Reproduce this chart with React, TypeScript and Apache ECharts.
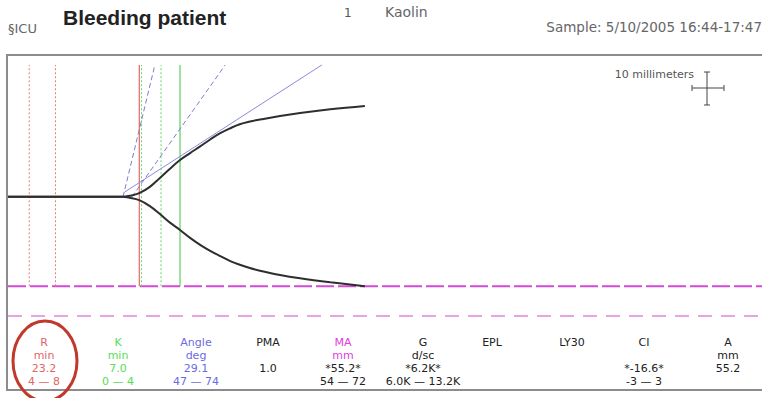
import React, { useEffect, useRef } from "react";
import * as echarts from "echarts";

// ---- data (minutes / millimetres) ----
const timeMin = [0, 20.4, 21.8, 23.5, 25.4, 27.2, 29.0, 30.8, 32.6, 34.4, 36.2, 38.0, 39.8, 41.5, 43.3, 45.1, 48.7, 52.3, 57.7, 63.9];
const upperMM = [0, 0, 0.3, 1.1, 3.0, 5.7, 8.5, 11.1, 13.2, 15.2, 17.3, 19.2, 20.7, 21.9, 22.7, 23.3, 24.4, 25.3, 26.4, 27.4];
const lowerMM = [0, 0, -0.3, -1.0, -2.8, -5.2, -7.8, -10.0, -12.4, -14.5, -16.3, -17.9, -19.4, -20.5, -21.5, -22.3, -23.6, -24.6, -25.8, -27.0];

const angleLine = [[20.9, 1.45], [56.2, 39.8]];
const tangentDashA = [[20.6, 0], [26.3, 39.8]];
const tangentDashB = [[22.2, 0], [38.9, 39.8]];

const rRangeMin = [3.8, 8.5];
const rLineMin = 23.5;
const kRangeMin = [23.9, 27.4];
const kLineMin = 30.8;
const markerSpanMM = [-27, 39.8];

const maNormalHalfMM = [-27, -36];

const paramNames = ["R", "K", "Angle", "PMA", "MA", "G", "EPL", "LY30", "CI", "A"];
const paramUnits = ["min", "min", "deg", "", "mm", "d/sc", "", "", "", "mm"];
const paramValues = ["23.2", "7.0", "29.1", "1.0", "*55.2*", "*6.2K*", "", "", "*-16.6*", "55.2"];
const paramRanges = ["4 \u2014 8", "0 \u2014 4", "47 \u2014 74", "", "54 \u2014 72", "6.0K \u2014 13.2K", "", "", "-3 \u2014 3", ""];

// ---- style / layout ----
const colX = [44, 118, 196, 268, 343, 423, 492, 572, 644, 728];
const nameColor = ["#e06666", "#55dd55", "#6b6be0", "#222", "#e040e0", "#222", "#222", "#222", "#222", "#222"];
const valueColor = ["#e06666", "#55dd55", "#6b6be0", "#222", "#222", "#222", "#222", "#222", "#222", "#222"];
const FONT = "DejaVu Sans";

export default function App() {
  const ref = useRef<HTMLDivElement>(null);
  useEffect(() => {
    if (!ref.current) return;
    const chart = echarts.init(ref.current, null, { renderer: "svg" });

    const vline = (x: number, color: string, type: any, width = 1) => ({
      type: "line",
      data: [[x, markerSpanMM[0]], [x, markerSpanMM[1]]],
      showSymbol: false,
      silent: true,
      z: 3,
      lineStyle: { color, type, width },
    });

    const tableTexts: any[] = [];
    const rowsY = [342, 355, 368, 381];
    paramNames.forEach((n, i) => {
      const rows = [n, paramUnits[i], paramValues[i], paramRanges[i]];
      rows.forEach((t, r) => {
        if (!t) return;
        tableTexts.push({
          type: "text",
          x: colX[i],
          y: rowsY[r],
          style: {
            text: t,
            fill: r < 2 ? nameColor[i] : valueColor[i],
            font: `11px "${FONT}"`,
            align: "center",
            verticalAlign: "middle",
            lineHeight: 12,
          },
        });
      });
    });

    const option: any = {
      animation: false,
      grid: { left: 8, right: 0, top: 56, height: 270 },
      xAxis: { type: "value", min: 0, max: 135, show: false },
      yAxis: { type: "value", min: -39, max: 42.5, show: false },
      series: [
        ...maNormalHalfMM.map((y, i) => ({
          type: "line",
          data: [[0, y], [135, y]],
          showSymbol: false,
          silent: true,
          z: 2,
          lineStyle: i === 0
            ? { color: "#d44ad4", width: 2, type: [18, 4] }
            : { color: "#e6a3e6", width: 2, type: [14, 9] },
        })),
        ...rRangeMin.map((x) => vline(x, "#ec7a7a", [2, 2])),
        vline(rLineMin, "#e04848", "solid"),
        ...kRangeMin.map((x) => vline(x, "#66d866", [2, 2])),
        vline(kLineMin, "#44c044", "solid"),
        {
          type: "line", data: angleLine, showSymbol: false, silent: true, z: 4,
          lineStyle: { color: "#8a8ae0", width: 1 },
        },
        {
          type: "line", data: tangentDashA, showSymbol: false, silent: true, z: 4,
          lineStyle: { color: "#7c7cd0", width: 1, type: [5, 3] },
        },
        {
          type: "line", data: tangentDashB, showSymbol: false, silent: true, z: 4,
          lineStyle: { color: "#7c7cd0", width: 1, type: [5, 3] },
        },
        {
          type: "line", data: timeMin.map((t, i) => [t, upperMM[i]]), smooth: 0.4,
          showSymbol: false, silent: true, z: 5,
          lineStyle: { color: "#2e2e2e", width: 2 },
        },
        {
          type: "line", data: timeMin.map((t, i) => [t, lowerMM[i]]), smooth: 0.4,
          showSymbol: false, silent: true, z: 5,
          lineStyle: { color: "#2e2e2e", width: 2 },
        },
      ],
      graphic: [
        {
          type: "rect", shape: { x: 7, y: 55, width: 820, height: 335 },
          style: { fill: "none", stroke: "#8c8c8c", lineWidth: 2 }, z: 1,
        },
        { type: "text", x: 8, y: 28, style: { text: "\u00a7ICU", fill: "#666", font: `13px "${FONT}"`, verticalAlign: "middle" } },
        { type: "text", x: 63, y: 17, style: { text: "Bleeding patient", fill: "#222", font: 'bold 21px "Liberation Sans"', verticalAlign: "middle" } },
        { type: "text", x: 344, y: 13, style: { text: "1", fill: "#555", font: `12px "${FONT}"`, verticalAlign: "middle" } },
        { type: "text", x: 385, y: 12, style: { text: "Kaolin", fill: "#666", font: `14px "${FONT}"`, verticalAlign: "middle" } },
        { type: "text", x: 762, y: 27, style: { text: "Sample: 5/10/2005 16:44-17:47", fill: "#666", font: `13.5px "${FONT}"`, align: "right", verticalAlign: "middle" } },
        { type: "text", x: 694, y: 74, style: { text: "10 millimeters", fill: "#555", font: `11px "${FONT}"`, align: "right", verticalAlign: "middle" } },
        { type: "line", shape: { x1: 707, y1: 72, x2: 707, y2: 105 }, style: { stroke: "#444", lineWidth: 1 } },
        { type: "line", shape: { x1: 704, y1: 72, x2: 710, y2: 72 }, style: { stroke: "#444", lineWidth: 1 } },
        { type: "line", shape: { x1: 704, y1: 105, x2: 710, y2: 105 }, style: { stroke: "#444", lineWidth: 1 } },
        { type: "line", shape: { x1: 692, y1: 88, x2: 724, y2: 88 }, style: { stroke: "#444", lineWidth: 1 } },
        { type: "line", shape: { x1: 692, y1: 85, x2: 692, y2: 91 }, style: { stroke: "#444", lineWidth: 1 } },
        { type: "line", shape: { x1: 724, y1: 85, x2: 724, y2: 91 }, style: { stroke: "#444", lineWidth: 1 } },
        ...tableTexts,
        {
          type: "ellipse", shape: { cx: 45, cy: 361, rx: 32, ry: 40 },
          style: { fill: "none", stroke: "#c0392b", lineWidth: 3 }, z: 10,
        },
      ],
    };
    chart.setOption(option);
    return () => chart.dispose();
  }, []);
  return (
    <div
      ref={ref}
      style={{ position: "fixed", left: 0, top: 0, width: 762, height: 398, background: "#fff" }}
    />
  );
}
